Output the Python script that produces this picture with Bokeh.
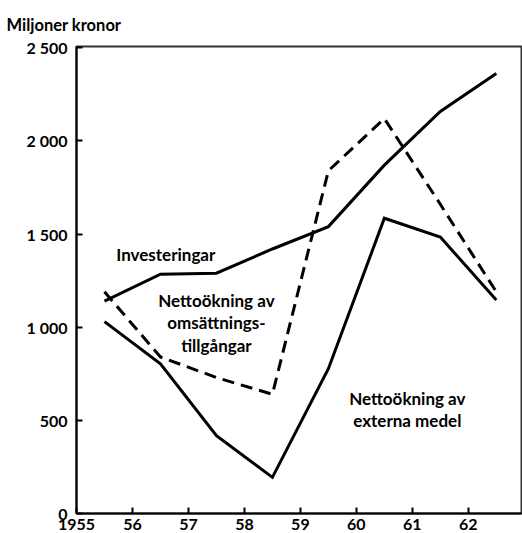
from bokeh.plotting import figure
from bokeh.models import FixedTicker, Range1d, Label
from bokeh.embed import file_html
from bokeh.resources import INLINE

# data (plotted at mid-year)
years = [1955.5, 1956.5, 1957.5, 1958.5, 1959.5, 1960.5, 1961.5, 1962.5]
investeringar = [1140, 1285, 1290, 1420, 1540, 1870, 2158, 2362]
omsattning = [1190, 840, 730, 640, 1840, 2120, 1660, 1190]
externa = [1030, 803, 418, 194, 777, 1585, 1484, 1146]

x_ticks = [1955, 1956, 1957, 1958, 1959, 1960, 1961, 1962]
x_labels = ["1955", "56", "57", "58", "59", "60", "61", "62"]
y_ticks = [0, 500, 1000, 1500, 2000, 2500]
y_labels = ["0", "500", "1 000", "1 500", "2 000", "2 500"]

FONT = "Lato"

p = figure(width=522, height=533, output_backend="svg", toolbar_location=None,
           x_range=Range1d(1955, 1962.95), y_range=Range1d(0, 2507),
           min_border_left=76, min_border_top=45, min_border_right=1,
           min_border_bottom=20)

p.title.text = "Miljoner kronor"
p.title.align = "left"
p.title.offset = -70
p.title.standoff = 24
p.title.text_font = FONT
p.title.text_font_size = "16.5px"
p.title.text_font_style = "bold"
p.title.text_color = "black"

p.xgrid.visible = False
p.ygrid.visible = False
p.outline_line_color = "black"
p.outline_line_width = 2
p.outline_line_alpha = 0.8
p.background_fill_color = "white"
p.border_fill_color = "white"

for ax in (p.xaxis[0], p.yaxis[0]):
    ax.axis_line_width = 2
    ax.axis_line_color = "black"
    ax.major_tick_in = 6
    ax.major_tick_out = 0
    ax.major_tick_line_width = 2
    ax.minor_tick_line_color = None
    ax.major_label_text_font = FONT
    ax.major_label_text_font_size = "16px"
    ax.major_label_text_font_style = "bold"
    ax.major_label_text_color = "black"

p.xaxis[0].ticker = FixedTicker(ticks=x_ticks)
p.xaxis[0].major_label_overrides = {t: l for t, l in zip(x_ticks, x_labels)}
p.xaxis[0].major_label_standoff = 5
p.yaxis[0].ticker = FixedTicker(ticks=y_ticks)
p.yaxis[0].major_label_overrides = {t: l for t, l in zip(y_ticks, y_labels)}
p.yaxis[0].major_label_standoff = 9

p.line(years, investeringar, line_color="black", line_width=3, line_join="miter")
p.line(years, externa, line_color="black", line_width=3, line_join="miter")
p.line(years, omsattning, line_color="black", line_width=3, line_dash="12 7",
       line_join="miter")

def txt(x, y, s, align="center"):
    p.add_layout(Label(x=x, y=y, text=s, text_font=FONT, text_font_size="17px",
                       text_font_style="bold", text_color="black",
                       text_align=align, text_baseline="middle"))

txt(1955.71, 1393, "Investeringar", "left")
txt(1957.5, 1141, "Nettoökning av")
txt(1957.5, 1023, "omsättnings-")
txt(1957.5, 900, "tillgångar")
txt(1960.91, 616, "Nettoökning av")
txt(1960.91, 498, "externa medel")

open("out.html", "w").write(file_html(p, INLINE))
